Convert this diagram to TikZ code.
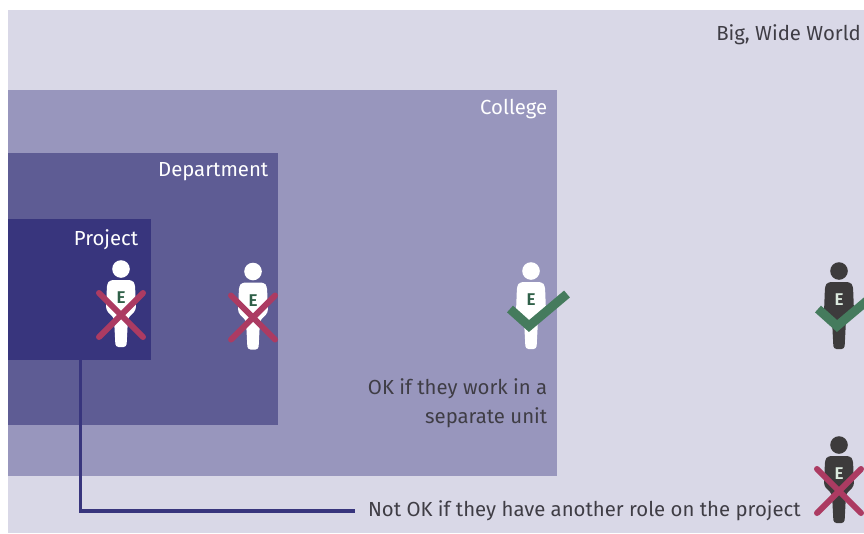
\documentclass[tikz,border=0pt]{standalone}
\usepackage{fontspec}
\setmainfont{Fira Sans}[BoldFont={Fira Sans SemiBold}]
\definecolor{worldc}{HTML}{D9D8E7}
\definecolor{collegec}{HTML}{9896BD}
\definecolor{deptc}{HTML}{5E5C94}
\definecolor{projc}{HTML}{38357D}
\definecolor{okc}{HTML}{457B5D}
\definecolor{noc}{HTML}{AC3B62}
\definecolor{darkp}{HTML}{3D3B3C}
\definecolor{txtc}{HTML}{3F3D45}
\definecolor{epale}{HTML}{DDEBE0}
\definecolor{edark}{HTML}{2F6048}
\tikzset{
  zone/.style={fill=#1,draw=none,inner sep=0pt,outer sep=0pt,anchor=north west},
  lbl/.style={font=\fontsize{20.35}{29}\selectfont,inner sep=0pt,text=txtc},
  whitelbl/.style={lbl,text=white},
  lead/.style={draw=projc,line width=3.5pt,line join=miter},
  okmark/.style={draw=okc,line width=9pt,line join=miter},
  nomark/.style={draw=noc,line width=6pt,line cap=round},
  pics/person/.style n args={2}{code={
    \fill[#1] (0,9) circle (8.8);
    \fill[#1,rounded corners=3pt] (-14,24) -- (-11,20) -- (11,20) -- (14,24) -- (15,50) -- (7,58) -- (5.5,87) -- (-5.5,87) -- (-7,58) -- (-15,50) -- cycle;
    \node[text=#2,font=\bfseries\fontsize{17}{19}\selectfont,inner sep=0pt] at (0,38) {E};
  }},
  pics/tick/.style={code={\draw[okmark] (-21,47) -- (-2,64) -- (36,32);}},
  pics/cross/.style={code={\draw[nomark] (-22,33) -- (22,77) (22,33) -- (-22,77);}},
}
\begin{document}
\begin{tikzpicture}[x=1pt,y=-1pt]
\useasboundingbox (0,0) rectangle (864,533);
\node[zone=worldc,minimum width=856pt,minimum height=523pt] (world) at (8,10) {};
\node[zone=collegec,minimum width=549pt,minimum height=386pt] (college) at (8,90) {};
\node[zone=deptc,minimum width=270pt,minimum height=272pt] (dept) at (8,153) {};
\node[zone=projc,minimum width=143pt,minimum height=141pt] (project) at (8,219) {};
\node[lbl,anchor=east] (worldl) at (861,35) {Big, Wide World};
\node[whitelbl,anchor=east] (collegel) at (547.5,109) {College};
\node[whitelbl,anchor=east] (deptl) at (268.5,172) {Department};
\node[whitelbl,anchor=east] (projl) at (138.5,240) {Project};
\node[lbl,anchor=east,align=right] (sep) at (547.5,403) {OK if they work in a\\separate unit};
\node[lbl,anchor=west,outer sep=13pt] (note) at (355,511) {Not OK if they have another role on the project};
\draw[lead] ([xshift=1pt]project.south) |- (note.west);
\pic at (121,260) {person={white}{edark}};
\pic at (121,260) {cross};
\pic at (253,262.5) {person={white}{edark}};
\pic at (253,262.5) {cross};
\pic at (531,262) {person={white}{edark}};
\pic at (531,262) {tick};
\pic at (839,262) {person={darkp}{epale}};
\pic at (839,262) {tick};
\pic at (839,436) {person={darkp}{epale}};
\pic at (839,436) {cross};
\end{tikzpicture}
\end{document}
